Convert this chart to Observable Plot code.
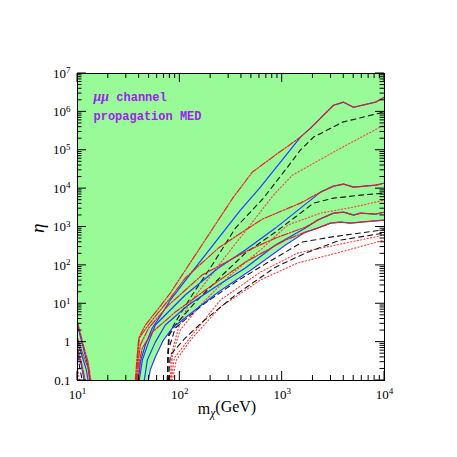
<!DOCTYPE html>
<html><head><meta charset="utf-8">
<script src="https://cdn.jsdelivr.net/npm/d3@7"></script>
<script src="https://cdn.jsdelivr.net/npm/@observablehq/plot@0.6"></script>
<style>body{margin:0;background:#fff;}</style>
</head><body><div id="chart"></div>
<script>
// ---- tick values ----
const xMajor = [10, 100, 1000, 10000];
const yMajor = [0.1, 1, 10, 100, 1e3, 1e4, 1e5, 1e6, 1e7];
const xLabel = ["m", "χ", "(GeV)"];
const yLabel = "η";
const notes = ["μμ channel", "propagation MED"];

// ---- curves: [m_chi (GeV), eta] ----
const f1Red  = [[36.7,0.1],[38.4,0.46],[39.7,1.28],[46,2.79],[64.5,8.7],[80.7,19],[199,737],[334,6010],[512,2.7e4],[860,7.5e4],[1510,2.2e5],[1892,3.77e5],[2371,6.85e5],[3177,1.49e6],[3980,1.79e6],[4986,1.32e6],[8183,1.79e6],[10000,2.42e6]];
const f1Blue = [[39.3,0.1],[41.1,0.30],[46,0.84],[53.8,2.33],[64.5,4.79],[80.7,12.5],[135.6,75.5],[391,2750],[613,1.09e4],[1510,2.2e5],[1892,3.77e5],[2371,6.85e5],[3177,1.49e6],[3980,1.79e6],[4986,1.32e6],[8183,1.79e6],[10000,2.42e6]];
const f1Dash = [[75.5,0.1],[76.3,0.46],[77.7,1.53],[90.4,3.34],[132,16.9],[207,102],[349,936],[656,5660],[1127,3.63e4],[1510,1.02e5],[2025,2.2e5],[3890,5.4e5],[10000,1.0e6]];
const f1Dot  = [[80.7,0.1],[82.6,0.46],[96.7,2.33],[121,9.25],[249,115],[512,1340],[822,6780],[1261,2.25e4],[3476,1.02e5],[10000,4.6e5]];

const f2Red  = [[37.5,0.1],[38.8,0.46],[40.1,1.28],[49.2,2.79],[64.5,6.86],[80.7,14.1],[113,46.7],[238,282],[437,832],[642,1610],[1152,3100],[1510,4190],[2371,8110],[3177,1.16e4],[3980,1.31e4],[4986,1.09e4],[8183,1.23e4],[10000,1.39e4]];
const f2Blue = [[40.1,0.1],[43,0.34],[49.5,1.0],[57.6,2.79],[113,16.9],[238,85],[437,251],[860,936],[1510,3100],[2371,8110],[3177,1.16e4],[3980,1.31e4],[4986,1.09e4],[8183,1.23e4],[10000,1.39e4]];
const f2Dash = [[76,0.1],[77,0.46],[79,1.53],[90.4,2.79],[142,11.1],[261,56],[437,209],[860,737],[1510,2300],[2025,4190],[3177,5660],[3980,6010],[5838,6780],[10000,7640]];
const f2Dot  = [[82.6,0.1],[84.5,0.46],[101,2.07],[159,9.25],[312,56],[613,251],[1127,1120],[2371,2300],[4986,3300],[10000,5020]];

const f3Red  = [[38.4,0.1],[39.3,0.34],[41.1,0.84],[49.5,2.33],[77.7,9.25],[165,56],[471,251],[860,514],[1690,994],[2215,1510],[3177,2300],[3980,2440],[4986,2040],[5838,2300],[8183,2170],[10000,2440]];
const f3Blue = [[44.9,0.1],[48.1,0.34],[57.6,1.0],[72.1,2.79],[121,9.25],[238,30.7],[437,85],[860,338],[1690,936],[2215,1510],[3177,2300],[3980,2440],[4986,2040],[5838,2300],[8183,2170],[10000,2440]];
const f3Dash = [[75.5,0.1],[77.2,0.62],[90.4,2.33],[166,9.25],[349,36.7],[734,122],[1580,405],[2969,546],[10000,850]];
const f3Dot  = [[82.6,0.1],[88.3,0.385],[132,1.53],[249,12.5],[613,67],[1411,209],[3720,359],[10000,620]];

const f4Red  = [[39.3,0.1],[40.1,0.30],[43,0.70],[53.8,1.83],[90.4,6.08],[178,22.8],[437,122],[1077,456],[1690,737],[2215,936],[2969,1260],[3720,1340],[4660,1260],[5838,1340],[10000,1510]];
const f4Blue = [[49.2,0.1],[51.4,0.19],[57.6,0.41],[69,1.13],[84.5,2.33],[133,6.08],[238,20.2],[512,80],[1077,338],[1690,737],[2215,936],[2969,1260],[3720,1340],[4660,1260],[5838,1340],[10000,1510]];
const f4Dash = [[77.2,0.1],[80.7,0.46],[113,1.28],[166,3.34],[349,16.9],[860,90],[1690,209],[3720,456],[10000,700]];
const f4Dot  = [[84.5,0.1],[92.4,0.34],[127,1.13],[249,8.2],[613,41.5],[1411,115],[3720,222],[10000,460]];

// low-mass branch (10-14 GeV)
const lowRedA  = [[10,3.34],[11.4,0.84],[12.7,0.30],[13.5,0.1]];
const lowBlueA = [[10,2.79],[11.4,0.70],[12.6,0.25],[13.2,0.1]];
const lowRedB  = [[10,1.28],[11.1,0.55],[12.7,0.21],[13.3,0.1]];
const lowBlueB = [[10,1.0],[11.1,0.43],[12.2,0.19],[12.7,0.1]];
const lowRedC  = [[10,0.70],[10.9,0.30],[11.9,0.1]];
const lowBlueC = [[10,0.55],[10.9,0.25],[11.6,0.1]];
const lowDash  = [[10,0.46],[11.1,0.1]];
const lowDot   = [[10,0.25],[10.4,0.1]];

// lower edge of the excluded (green) region
const greenLeft = [[10,0.70],[10.9,0.30],[11.9,0.1]];
const greenEdge = greenLeft.concat(f4Blue);

const series = [
  ["f1Dot",f1Dot,"dot"],["f2Dot",f2Dot,"dot"],["f3Dot",f3Dot,"dot"],["f4Dot",f4Dot,"dot"],["lowDot",lowDot,"dot"],
  ["f1Dash",f1Dash,"dash"],["f2Dash",f2Dash,"dash"],["f3Dash",f3Dash,"dash"],["f4Dash",f4Dash,"dash"],["lowDash",lowDash,"dash"],
  ["f1Blue",f1Blue,"blue"],["f2Blue",f2Blue,"blue"],["f3Blue",f3Blue,"blue"],["f4Blue",f4Blue,"blue"],["lowBlueA",lowBlueA,"blue"],["lowBlueB",lowBlueB,"blue"],["lowBlueC",lowBlueC,"blue"],
  ["f1Red",f1Red,"red"],["f2Red",f2Red,"red"],["f3Red",f3Red,"red"],["f4Red",f4Red,"red"],["lowRedA",lowRedA,"red"],["lowRedB",lowRedB,"red"],["lowRedC",lowRedC,"red"]
];
const rows = series.flatMap(([name, pts, kind]) => pts.map(([m, eta]) => ({name, kind, m, eta})));

const styles = {
  dot:  {stroke: "#ff3a3a", strokeDasharray: "1.2,2.2", strokeWidth: 1.1},
  dash: {stroke: "#151515", strokeDasharray: "5,4", strokeWidth: 1.1},
  blue: {stroke: "#1f3cff", strokeWidth: 1.2},
  red:  {stroke: "#e82020", strokeDasharray: "7,1.5,1.5,1.5", strokeWidth: 1.2}
};

const sup = d => d === 0.1 ? "0.1" : d === 1 ? "1" : "10^" + Math.round(Math.log10(d));

const chart = Plot.plot({
  width: 457, height: 457,
  marginLeft: 77, marginRight: 73, marginTop: 73, marginBottom: 77,
  x: {type: "log", domain: [10, 1e4]},
  y: {type: "log", domain: [0.1, 1e7]},
  style: {fontFamily: "Liberation Serif", fontSize: "13px", background: "white", color: "black"},
  marks: [
    Plot.areaY(greenEdge, {x: d => d[0], y1: d => d[1], y2: d => 1e7, fill: "#98fb98", curve: "linear", clip: true}),
    ...["dot", "dash", "blue", "red"].map(k =>
      Plot.line(rows.filter(r => r.kind === k), {x: "m", y: "eta", z: "name", curve: "linear", clip: true, ...styles[k]})),
    Plot.frame({stroke: "black", strokeWidth: 1}),
    Plot.axisX({ticks: xMajor, tickSize: 0, tickPadding: 9, tickFormat: sup, label: null, fontSize: 13}),
    Plot.axisY({ticks: yMajor, tickSize: 0, tickPadding: 7, tickFormat: sup, label: null, fontSize: 13}),
    Plot.text([xLabel.join("_")], {frameAnchor: "bottom", dx: -4, dy: 33, fontSize: 16}),
    Plot.text([yLabel], {frameAnchor: "left", dx: -40, dy: 6, rotate: -90, fontSize: 19, fontStyle: "italic"}),
    Plot.text([notes[0]], {frameAnchor: "top-left", dx: 16, dy: 19, textAnchor: "start", fontFamily: "Liberation Mono", fontWeight: "bold", fontSize: 12, fill: "#a020f0"}),
    Plot.text([notes[1]], {frameAnchor: "top-left", dx: 16, dy: 38, textAnchor: "start", fontFamily: "Liberation Mono", fontWeight: "bold", fontSize: 12, fill: "#a020f0"})
  ]
});
document.getElementById("chart").appendChild(chart);

// ---- post-processing: superscripts, subscript, italics, inward ticks ----
const svg = d3.select(chart);
svg.selectAll("text").each(function() {
  const t = this.textContent;
  const sel = d3.select(this);
  let m = /^10\^(\d)$/.exec(t);
  if (m) {
    sel.text("10");
    sel.append("tspan").attr("dy", "-0.48em").attr("font-size", "0.7em").text(m[1]);
  } else if (t === xLabel.join("_")) {
    sel.text(xLabel[0]);
    sel.append("tspan").attr("dy", "0.3em").attr("font-size", "0.72em").attr("font-style", "italic").text(xLabel[1]);
    sel.append("tspan").attr("dy", "-0.3em").text(xLabel[2]);
  } else if (t === notes[0]) {
    sel.text("");
    sel.append("tspan").attr("font-family", "Liberation Serif").attr("font-style", "italic").attr("font-size", "14px").text("μμ");
    sel.append("tspan").text(" channel");
  }
});

const X = chart.scale("x"), Y = chart.scale("y");
const [x0, x1] = X.range, [yb, yt] = Y.range;
const minorOf = majors => majors.slice(0, -1).flatMap(v => [2,3,4,5,6,7,8,9].map(k => v * k));
const g = svg.append("g").attr("stroke", "black").attr("stroke-width", 1).attr("fill", "none");
const tick = (v, len, axis) => {
  if (axis === "x") {
    const px = X.apply(v);
    g.append("line").attr("x1", px).attr("x2", px).attr("y1", yb).attr("y2", yb - len);
    g.append("line").attr("x1", px).attr("x2", px).attr("y1", yt).attr("y2", yt + len);
  } else {
    const py = Y.apply(v);
    g.append("line").attr("y1", py).attr("y2", py).attr("x1", x0).attr("x2", x0 + len);
    g.append("line").attr("y1", py).attr("y2", py).attr("x1", x1).attr("x2", x1 - len);
  }
};
xMajor.forEach(v => tick(v, 9, "x"));
minorOf(xMajor).forEach(v => tick(v, 5, "x"));
yMajor.forEach(v => tick(v, 9, "y"));
minorOf(yMajor).forEach(v => tick(v, 4.5, "y"));
</script>
</body></html>
